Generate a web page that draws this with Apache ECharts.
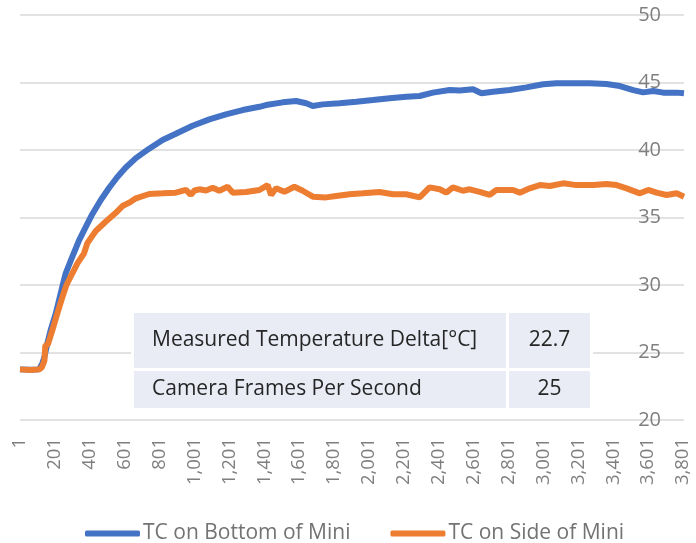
<!DOCTYPE html>
<html>
<head>
<meta charset="utf-8">
<script src="https://cdn.jsdelivr.net/npm/echarts@6/dist/echarts.min.js"></script>
<style>
  html, body { margin: 0; padding: 0; background: #fff; }
  #chart { width: 696px; height: 543px; }
</style>
</head>
<body>
<div id="chart"></div>
<script>
// sample index (0-based) and temperature
const bottomIdx = [0, 60, 110, 119, 128, 138, 157, 176, 205, 224, 243, 262, 300, 339, 377, 415, 463, 511, 558, 606, 664, 740, 817, 893, 989, 1085, 1180, 1276, 1372, 1410, 1505, 1582, 1640, 1678, 1735, 1831, 1927, 2022, 2118, 2213, 2290, 2366, 2462, 2519, 2596, 2644, 2711, 2806, 2902, 2998, 3074, 3170, 3265, 3361, 3438, 3514, 3571, 3629, 3686, 3763, 3805]
const bottomTemp = [23.75, 23.72, 23.75, 23.85, 24.2, 24.57, 25.68, 26.67, 27.9, 28.9, 29.9, 30.87, 32.1, 33.33, 34.3, 35.26, 36.3, 37.2, 38.0, 38.7, 39.4, 40.1, 40.74, 41.2, 41.8, 42.27, 42.64, 42.96, 43.2, 43.33, 43.53, 43.63, 43.46, 43.26, 43.38, 43.46, 43.58, 43.7, 43.83, 43.95, 44.0, 44.25, 44.45, 44.4, 44.5, 44.2, 44.32, 44.44, 44.64, 44.87, 44.94, 44.94, 44.94, 44.89, 44.74, 44.44, 44.27, 44.37, 44.25, 44.25, 44.2]

const sideIdx = [0, 60, 110, 125, 140, 145, 160, 186, 214, 243, 266, 300, 329, 367, 386, 434, 492, 549, 587, 626, 664, 740, 817, 893, 951, 979, 1000, 1027, 1066, 1104, 1142, 1190, 1219, 1295, 1372, 1419, 1439, 1467, 1515, 1572, 1620, 1678, 1754, 1812, 1888, 1965, 2060, 2137, 2213, 2290, 2347, 2405, 2443, 2481, 2538, 2577, 2634, 2692, 2730, 2825, 2864, 2921, 2979, 3036, 3112, 3189, 3285, 3361, 3419, 3476, 3552, 3600, 3648, 3705, 3763, 3805]
const sideTemp = [23.75, 23.7, 23.75, 23.9, 24.4, 25.5, 25.6, 26.67, 27.9, 29.1, 30.0, 30.87, 31.6, 32.35, 33.1, 34.0, 34.7, 35.35, 35.85, 36.1, 36.42, 36.74, 36.79, 36.84, 37.04, 36.67, 37.0, 37.09, 37.0, 37.2, 36.98, 37.28, 36.84, 36.89, 37.04, 37.4, 36.67, 37.16, 36.9, 37.28, 36.98, 36.54, 36.49, 36.59, 36.72, 36.79, 36.89, 36.72, 36.72, 36.49, 37.23, 37.09, 36.84, 37.23, 36.98, 37.09, 36.9, 36.67, 37.04, 37.04, 36.84, 37.16, 37.4, 37.33, 37.53, 37.4, 37.4, 37.48, 37.4, 37.16, 36.79, 37.04, 36.84, 36.67, 36.79, 36.54]

const seriesNames = ['TC on Bottom of Mini', 'TC on Side of Mini']
const yTicks = [20, 25, 30, 35, 40, 45, 50]
const tableRows = [
  ['Measured Temperature Delta[°C]', '22.7'],
  ['Camera Frames Per Second', '25']
]

const font = 'Open Sans'
const zip = (xs, ys) => xs.map((x, i) => [x, ys[i]])

// table cells drawn as graphics on top of the plot
const rowTops = [313, 371]
const rowHeights = [55, 37]
const tableGraphic = [
  { type: 'rect', left: 131, top: 310, shape: { width: 462, height: 101 }, style: { fill: '#fff' }, z: 50 }
]
tableRows.forEach((row, r) => {
  tableGraphic.push({
    type: 'rect', left: 134, top: rowTops[r],
    shape: { width: 372, height: rowHeights[r] }, style: { fill: '#e9ebf5' }, z: 51
  })
  tableGraphic.push({
    type: 'rect', left: 509, top: rowTops[r],
    shape: { width: 81, height: rowHeights[r] }, style: { fill: '#e9ebf5' }, z: 51
  })
  tableGraphic.push({
    type: 'text', x: 152, y: rowTops[r] + rowHeights[r] / 2, z: 52,
    style: { text: row[0], fill: '#262626', font: '21px "Open Sans"', textVerticalAlign: 'middle', textAlign: 'left' }
  })
  tableGraphic.push({
    type: 'text', x: 549.5, y: rowTops[r] + rowHeights[r] / 2, z: 52,
    style: { text: row[1], fill: '#262626', font: '21px "Open Sans"', textVerticalAlign: 'middle', textAlign: 'center' }
  })
})

const chart = echarts.init(document.getElementById('chart'))
chart.setOption({
  animation: false,
  color: ['#4472c4', '#ed7d31'],
  grid: { left: 20, right: 12, top: 15, bottom: 123 },
  legend: {
    data: seriesNames,
    left: 80,
    top: 518,
    itemGap: 40,
    itemWidth: 55,
    itemHeight: 6,
    icon: 'roundRect',
    textStyle: { fontFamily: font, fontSize: 21, color: '#737373', padding: [0, 0, 0, -2] }
  },
  xAxis: {
    type: 'value',
    min: 0,
    max: 3805,
    interval: 200,
    axisLine: { show: false },
    axisTick: { show: false },
    splitLine: { show: false },
    axisLabel: {
      rotate: 90,
      margin: 18,
      fontFamily: font,
      fontSize: 18.5,
      color: '#7f7f7f',
      formatter: v => (v % 200 === 0 ? (v + 1).toLocaleString('en-US') : '')
    }
  },
  yAxis: [
    {
      type: 'value',
      position: 'right',
      min: yTicks[0],
      max: yTicks[yTicks.length - 1],
      interval: 5,
      axisLine: { show: false },
      axisTick: { show: false },
      axisLabel: { show: false },
      splitLine: { lineStyle: { color: '#d9d9d9', width: 1.5 } }
    },
    {
      type: 'value',
      position: 'right',
      min: yTicks[0],
      max: yTicks[yTicks.length - 1],
      interval: 5,
      z: 10,
      axisLine: { show: false },
      axisTick: { show: false },
      splitLine: { show: false },
      axisLabel: { inside: true, margin: 23, fontFamily: font, fontSize: 20, color: '#7f7f7f' }
    }
  ],
  series: [
    {
      name: seriesNames[0],
      type: 'line',
      yAxisIndex: 0,
      showSymbol: false,
      data: zip(bottomIdx, bottomTemp),
      lineStyle: { width: 6 }
    },
    {
      name: seriesNames[1],
      type: 'line',
      yAxisIndex: 0,
      showSymbol: false,
      data: zip(sideIdx, sideTemp),
      lineStyle: { width: 6 }
    }
  ],
  graphic: tableGraphic
})
</script>
</body>
</html>
